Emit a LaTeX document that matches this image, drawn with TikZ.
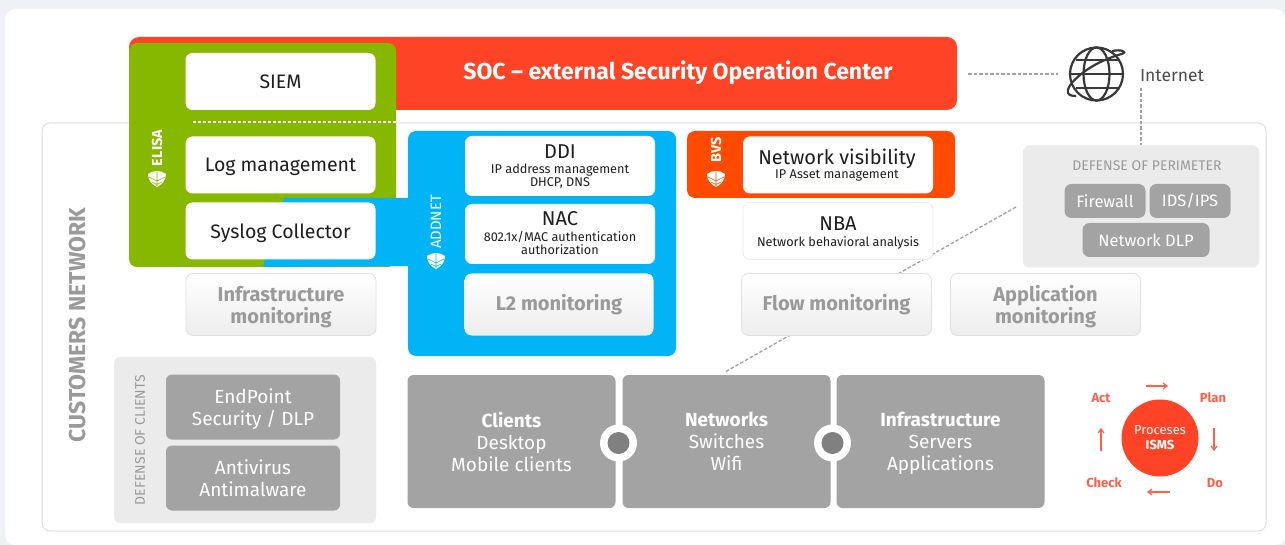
\documentclass[tikz,border=0pt]{standalone}
\usepackage{fontspec}
\setmainfont{Fira Sans}
\usetikzlibrary{arrows.meta}
\definecolor{socred}{HTML}{FF4326}
\definecolor{bvsred}{HTML}{FF4A00}
\definecolor{elisagreen}{HTML}{87B800}
\definecolor{addblue}{HTML}{00B4F5}
\definecolor{gbox}{HTML}{A3A3A3}
\definecolor{gtext}{HTML}{9A9A9A}
\definecolor{gpanel}{HTML}{EBEBEB}
\definecolor{ink}{HTML}{1E1E1E}
\definecolor{bgtint}{HTML}{EEF2F6}
\definecolor{dashc}{HTML}{A0A0A0}
\newcommand{\nd}[1]{\raisebox{0pt}[\height][0pt]{#1}}
\tikzset{
  x=1pt,y=-1pt,
  base/.style={inner sep=0pt,align=center,rounded corners=7pt,font=\fontsize{19.5}{22}\selectfont},
  whitebox/.style={base,fill=white,text=ink},
  monobox/.style={base,top color=white,bottom color=black!7,draw=black!12,line width=.8pt,text=gtext,font=\fontsize{20}{23}\selectfont\bfseries},
  graybox/.style={base,fill=gbox,text=white,font=\fontsize{16.5}{19}\selectfont},
  bigbox/.style={base,fill=gbox,text=white,rounded corners=6pt,font=\fontsize{19}{22}\selectfont},
  panel/.style={rounded corners=8pt},
  dash line/.style={draw=dashc,line width=1.3pt,dash pattern=on 3.5pt off 2pt},
  sub/.style={font=\fontsize{12.7}{13}\selectfont},
  title/.style={text=ink,font=\fontsize{20}{23}\selectfont,inner sep=0pt},
  vlabel/.style={rotate=90,text=white,font=\fontsize{14.5}{16}\selectfont\bfseries,inner sep=0pt},
  ismsred/.style={text=socred!85!white,font=\fontsize{13}{15}\selectfont\bfseries,inner sep=0pt},
  ismsarrow/.style={draw=socred!85!white,line width=1.2pt,-{Straight Barb[length=4pt,width=6pt]}},
  shieldicon/.pic={
    \fill[white] (-9,-4) .. controls (-4,-8) and (4,-8) .. (9,-4)
      .. controls (9,3) and (4,7) .. (0,9) .. controls (-4,7) and (-9,3) .. (-9,-4) -- cycle;
    \draw[pic actions,line width=.6pt] (-8,-1) -- (0,3) -- (8,-1) (-5,4) -- (0,6.5) -- (5,4) (0,-6) -- (0,8);
  }
}
\begin{document}
\begin{tikzpicture}
\useasboundingbox (0,0) rectangle (1285,545);
\fill[bgtint] (0,0) rectangle (1285,545);
\fill[white,rounded corners=10pt] (5,9) -- (1285,9) -- (1285,545) -- (5,545) -- cycle;
% customers network
\draw[panel,draw=black!13,line width=1pt,fill=white] (42,123) rectangle (1266,531);
\node[rotate=90,text=gtext,font=\fontsize{23}{26}\selectfont\bfseries,inner sep=0pt] (cust) at (78,325) {CUSTOMERS NETWORK};
% SOC
\fill[socred,rounded corners=10pt] (129,37) rectangle (957,110);
\node[text=white,font=\fontsize{23}{26}\selectfont\bfseries,inner sep=0pt] (soc) at (678,73) {SOC – external Security Operation Center};
% Elisa
\fill[elisagreen,panel] (129,43) rectangle (396,267);
% blue connection band
\fill[addblue] (284,198) -- (410,198) -- (410,266) -- (263,267) -- cycle;
% Addnet
\fill[addblue,panel] (408,131) rectangle (676,356);
\node[vlabel] (elisalbl) at (157,148) {ELISA};
\pic[addblue,draw=elisagreen] at (157,178) {shieldicon};
\node[vlabel,font=\fontsize{15}{16}\selectfont] (addlbl) at (436,222) {ADDNET};
\pic[draw=addblue] at (436,260) {shieldicon};
\draw[white,line width=1.5pt,dash pattern=on 3pt off 2pt] (193,122) -- (396,122);
\node[whitebox,minimum width=190pt,minimum height=57pt] (siem) at (280.5,81.5) {SIEM};
\node[whitebox,minimum width=190pt,minimum height=57pt] (log) at (280.5,165) {\nd{Log management}};
\node[whitebox,minimum width=190pt,minimum height=57pt] (syslog) at (280.5,231) {\nd{Syslog Collector}};
\node[monobox,minimum width=190pt,minimum height=62pt] (infra) at (281,304.5) {Infrastructure\\[-1pt]\nd{monitoring}};
% Addnet boxes
\node[whitebox,minimum width=190pt,minimum height=60pt] (ddi) at (560,166) {};
\node[title] (ddit) at (560,152) {DDI};
\node[text=ink,sub,align=center,inner sep=0pt] (ddis) at (560,176) {IP address management\\DHCP, DNS};
\node[whitebox,minimum width=190pt,minimum height=60pt] (nac) at (560,234) {};
\node[title] (nact) at (560,219) {NAC};
\node[text=ink,sub,align=center,inner sep=0pt] (nacs) at (560,243) {802.1x/MAC authentication\\authorization};
\node[monobox,draw=none,minimum width=189pt,minimum height=62pt] (l2) at (559,304.5) {L2 monitoring};
% BVS
\fill[bvsred,panel] (687,131) rectangle (955,198);
\node[vlabel] (bvslbl) at (716,150) {BVS};
\pic[draw=bvsred] at (716,178) {shieldicon};
\node[whitebox,minimum width=190pt,minimum height=57pt] (vis) at (838,165) {};
\node[title] (vist) at (837,158.5) {Network visibility};
\node[text=ink,sub,inner sep=0pt] (viss) at (837,175.5) {IP Asset management};
% connectors behind the monitoring boxes
\coordinate (flowa) at (1016,207);
\coordinate (flowb) at (725,372);
\draw[dash line] (flowa) -- (flowb);
\node[whitebox,draw=black!8,line width=.8pt,minimum width=190pt,minimum height=57pt] (nba) at (838,231) {};
\node[title] (nbat) at (838,224) {NBA};
\node[text=ink,sub,inner sep=0pt] (nbas) at (838,242.5) {Network behavioral analysis};
\node[monobox,minimum width=190pt,minimum height=62pt] (flow) at (836.5,304.5) {Flow monitoring};
\node[monobox,minimum width=190pt,minimum height=62pt] (app) at (1045.5,304.5) {Application\\[-1pt]\nd{monitoring}};
% Perimeter
\node[base,fill=gpanel,draw=black!8,minimum width=236pt,minimum height=122pt] (perim) at (1141,206.5) {};
\node[text=gtext,font=\fontsize{14}{15}\selectfont,inner sep=0pt] (perimt) at (1147,166) {DEFENSE OF PERIMETER};
\node[graybox,minimum width=81pt,minimum height=34pt] (fw) at (1105,201) {Firewall};
\node[graybox,minimum width=81pt,minimum height=34pt] (ids) at (1190,201) {IDS/IPS};
\node[graybox,minimum width=127pt,minimum height=34pt] (dlp) at (1146,240) {Network DLP};
% Clients defense
\node[base,fill=gpanel,draw=black!8,minimum width=262pt,minimum height=166pt] (defc) at (245,440) {};
\node[rotate=90,text=gtext,font=\fontsize{14}{15}\selectfont,inner sep=0pt] (defct) at (140,440) {DEFENSE OF CLIENTS};
\node[bigbox,minimum width=174pt,minimum height=65pt] (endp) at (253,407) {EndPoint\\\nd{Security / DLP}};
\node[bigbox,minimum width=174pt,minimum height=65pt] (anti) at (253,478) {Antivirus\\Antimalware};
% Main gray
\node[bigbox,minimum width=208pt,minimum height=133pt] (cli) at (511.5,441.5) {\textbf{Clients}\\Desktop\\Mobile clients};
\node[bigbox,minimum width=208pt,minimum height=133pt] (net) at (726.5,441.5) {\textbf{Networks}\\Switches\\Wifi};
\node[bigbox,minimum width=208pt,minimum height=133pt] (inf) at (940.5,441.5) {\textbf{Infrastructure}\\Servers\\\nd{Applications}};
\node[circle,fill=white,minimum size=37pt,inner sep=0pt] (ring1) at (618.5,443) {};
\node[circle,fill=black!50,minimum size=22pt,inner sep=0pt] (dot1) at (618.5,443) {};
\node[circle,fill=white,minimum size=37pt,inner sep=0pt] (ring2) at (832.5,443) {};
\node[circle,fill=black!50,minimum size=22pt,inner sep=0pt] (dot2) at (832.5,443) {};
% Internet
\node[circle,minimum size=54pt,inner sep=0pt] (globe) at (1096.5,74) {};
\begin{scope}[shift={(1096.5,74)},draw=black!78,line width=2.2pt]
  \draw (0,0) circle (26.5);
  \draw (0,0) ellipse (13 and 26.5);
  \draw (-26,0) -- (26,0);
  \draw (-21,-14) -- (21,-14);
  \draw (-21,14) -- (21,14);
  \draw[line cap=round] (16,-23) .. controls (24,-25) and (32,-22) .. (25,-20)
     .. controls (15,-17) and (-6,-10) .. (-22,6)
     .. controls (-28,12) and (-34,22) .. (-21,22);
\end{scope}
\node[text=black!70,font=\fontsize{17.5}{20}\selectfont,inner sep=0pt] (inet) at (1172,76) {Internet};
\coordinate (inetb) at (1141,88);
\coordinate (socr) at (968,74);
\coordinate (globel) at (1058,74);
\draw[dash line] (socr) -- (globel);
\draw[dash line] (inetb) -- (perim.north);
% ISMS
\node[circle,fill=socred,minimum size=77pt,inner sep=0pt,text=white,align=center,font=\fontsize{13}{15}\selectfont] (isms) at (1160,438) {Proceses\\\textbf{ISMS}};
\node[ismsred] (act) at (1101,398) {Act};
\node[ismsred] (plan) at (1213,398) {Plan};
\node[ismsred] (do) at (1215,483) {Do};
\node[ismsred] (check) at (1104,483) {Check};
\draw[ismsarrow] (1146,386) -- (1168,386);
\draw[ismsarrow] (1214,428) -- (1214,451);
\draw[ismsarrow] (1170,492) -- (1147,492);
\draw[ismsarrow] (1101,451) -- (1101,428);
\end{tikzpicture}
\end{document}
